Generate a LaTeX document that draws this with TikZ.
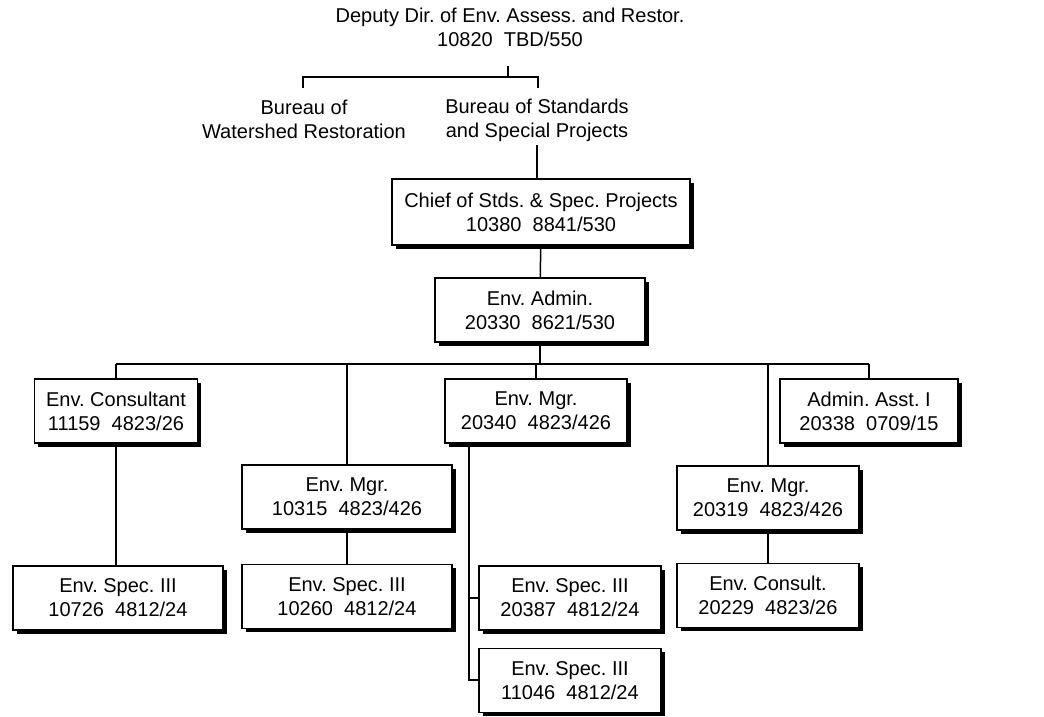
\documentclass[tikz,border=0pt]{standalone}
\usepackage{fontspec}
\setmainfont{Liberation Sans}
\usetikzlibrary{positioning,shadows}
\frenchspacing

\begin{document}
\begin{tikzpicture}[x=1pt, y=-1pt,
        post/.style={rectangle, draw=black, line width=1.2pt, fill=white,
                     minimum height=64pt, align=center, inner sep=2pt,
                     font=\fontsize{20}{24}\selectfont,
                     drop shadow={shadow xshift=3.5pt, shadow yshift=-3.5pt,
                                  fill=black, opacity=1}},
        wide/.style={minimum width=210pt},
        slim/.style={minimum width=182pt},
        head/.style={align=center, font=\fontsize{20}{24}\selectfont},
        link/.style={line width=1.5pt, black}]
        \useasboundingbox (0,0) rectangle (1044,717);
        % heading
        \node[head] (dep)  at (510,27)  {Deputy Dir. of Env. Assess. and Restor.\\10820~~TBD/550};
        \node[head] (bwr)  at (304,119) {Bureau of\\Watershed Restoration};
        \node[head] (bssp) at (537,120) {Bureau of Standards\\and Special Projects};
        \coordinate (dtop) at (508,66);
        \coordinate (bar)  at (508,77);
        \coordinate (bl)   at (303,88);
        \coordinate (br)   at (538,88);
        \draw[link] (dtop) -- (bar);
        \draw[link] (bl) |- (bar) -| (br);
        % chief and admin
        \node[post, minimum width=298pt, minimum height=66pt] (chief) at (541,212)
              {Chief of Stds. \& Spec. Projects\\10380~~8841/530};
        \node[post, wide] (admin) at (540,310) {Env. Admin.\\20330~~8621/530};
        \draw[link] (bssp.south) -- (bssp.south |- chief.north);
        \draw[link] (chief) -- (admin);
        % first row
        \node[post, minimum width=163pt] (cons) at (116,411) {Env. Consultant\\11159~~4823/26};
        \node[post, slim] (mgrA) at (536,411) {Env. Mgr.\\20340~~4823/426};
        \node[post, minimum width=178pt] (asst) at (869,411) {Admin. Asst. I\\20338~~0709/15};
        \node[post, wide] (mgrB) at (347,497) {Env. Mgr.\\10315~~4823/426};
        \node[post, slim] (mgrC) at (768,498) {Env. Mgr.\\20319~~4823/426};
        \coordinate (busL) at (116,364);
        \coordinate (busR) at (869,364);
        \draw[link] (busL) -- (busR);
        \draw[link] (admin.south) -- (admin.south |- busL);
        \draw[link] (cons.north) -- (cons.north |- busL);
        \draw[link] (mgrA.north) -- (mgrA.north |- busL);
        \draw[link] (asst.north) -- (asst.north |- busL);
        \draw[link] (mgrB.north) -- (mgrB.north |- busL);
        \draw[link] (mgrC.north) -- (mgrC.north |- busL);
        % lower rows
        \node[post, wide] (specA) at (118,598) {Env. Spec. III\\10726~~4812/24};
        \node[post, wide, below=34pt of mgrB] (specB) {Env. Spec. III\\10260~~4812/24};
        \node[post, slim] (specC) at (570,598) {Env. Spec. III\\20387~~4812/24};
        \node[post, slim, below=17pt of specC] (specD) {Env. Spec. III\\11046~~4812/24};
        \node[post, slim, below=32pt of mgrC] (consC) {Env. Consult.\\20229~~4823/26};
        \draw[link] (cons.south) -- (cons.south |- specA.north);
        \draw[link] (mgrB) -- (specB);
        \draw[link] (mgrC) -- (consC);
        \coordinate (spine) at ([xshift=-67pt]mgrA.south);
        \draw[link] (spine) |- (specD.west);
        \draw[link] (spine |- specC.west) -- (specC.west);
\end{tikzpicture}
\end{document}
